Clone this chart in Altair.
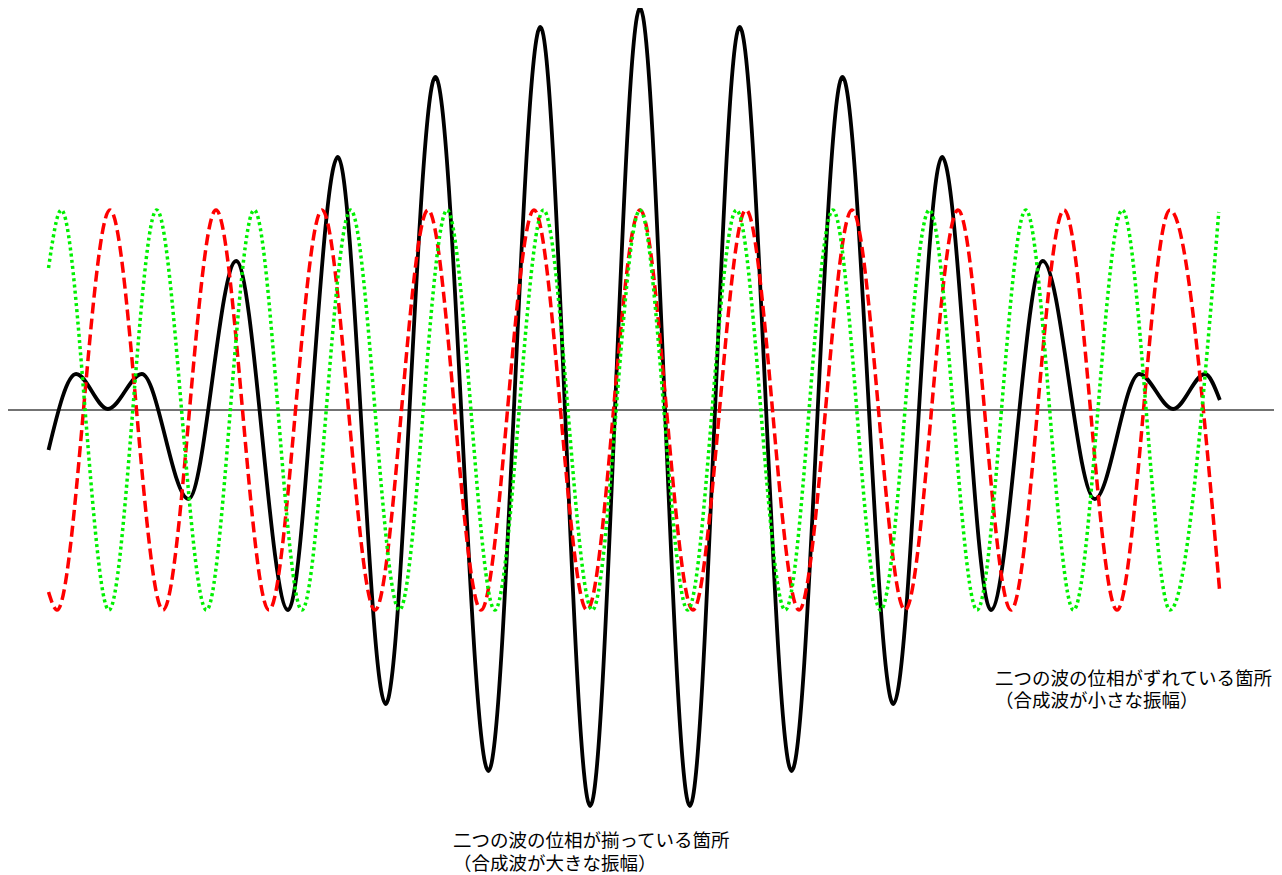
import altair as alt
import pandas as pd

# ---- data (time in s, amplitude in arbitrary units) ----
# sum wave (black) – extrema and ends
sum_t = [-0.558, -0.532, -0.502, -0.470, -0.426, -0.381, -0.332, -0.285, -0.240,
         -0.193, -0.143, -0.094, -0.047, 0.000, 0.047, 0.094, 0.143, 0.191,
         0.239, 0.285, 0.331, 0.380, 0.429, 0.471, 0.503, 0.533, 0.547]
sum_v = [-0.20, 0.18, 0.005, 0.18, -0.445, 0.745, -1.00, 1.265, -1.47,
         1.665, -1.805, 1.915, -1.98, 2.01, -1.98, 1.915, -1.805, 1.665,
         -1.47, 1.265, -1.00, 0.745, -0.445, 0.18, 0.005, 0.18, 0.05]

# wave 1 (red dashed)
red_t = [-0.558, -0.550, -0.500, -0.450, -0.400, -0.350, -0.300, -0.250,
         -0.200, -0.150, -0.100, -0.050, 0.000, 0.050, 0.100, 0.150, 0.200,
         0.250, 0.300, 0.350, 0.400, 0.450, 0.500, 0.547]
red_v = [-0.91, -1.0, 1.0, -1.0, 1.0, -1.0, 1.0, -1.0,
         1.0, -1.0, 1.0, -1.0, 1.0, -1.0, 1.0, -1.0, 1.0,
         -1.0, 1.0, -1.0, 1.0, -1.0, 1.0, -0.915]

# wave 2 (green dotted)
green_t = [-0.558, -0.546, -0.501, -0.456, -0.409, -0.364, -0.319, -0.273,
           -0.227, -0.182, -0.137, -0.091, -0.045, 0.000, 0.045, 0.091, 0.137,
           0.182, 0.227, 0.273, 0.318, 0.364, 0.409, 0.455, 0.500, 0.546]
green_v = [0.71, 1.0, -1.0, 1.0, -1.0, 1.0, -1.0, 1.0,
           -1.0, 1.0, -1.0, 1.0, -1.0, 1.0, -1.0, 1.0, -1.0,
           1.0, -1.0, 1.0, -1.0, 1.0, -1.0, 1.0, -1.0, 0.99]

# annotations (two-line labels; position = first line)
ann1_t, ann1_v = [-0.1764], [-2.155]
ann1_text = ["二つの波の位相が揃っている箇所\n（合成波が大きな振幅）"]
ann2_t, ann2_v = [0.3349], [-1.345]
ann2_text = ["二つの波の位相がずれている箇所\n（合成波が小さな振幅）"]

df_sum = pd.DataFrame({"t": sum_t, "v": sum_v})
df_red = pd.DataFrame({"t": red_t, "v": red_v})
df_green = pd.DataFrame({"t": green_t, "v": green_v})
df_ann1 = pd.DataFrame({"t": ann1_t, "v": ann1_v, "text": ann1_text})
df_ann2 = pd.DataFrame({"t": ann2_t, "v": ann2_v, "text": ann2_text})
df_zero = pd.DataFrame({"v": [0.0]})

xs = alt.Scale(domain=[-0.59623, 0.59811], nice=False, zero=False)
ys = alt.Scale(domain=[-2.325, 2.01], nice=False, zero=False)

X = alt.X("t:Q", scale=xs, axis=None)
Y = alt.Y("v:Q", scale=ys, axis=None)

zero = alt.Chart(df_zero).mark_rule(color="#444444", strokeWidth=1.5).encode(
    y=alt.Y("v:Q", scale=ys, axis=None))

black = alt.Chart(df_sum).mark_line(
    color="#000000", strokeWidth=3.8, interpolate="monotone").encode(x=X, y=Y)

red = alt.Chart(df_red).mark_line(
    color="#ff0000", strokeWidth=3.5, strokeDash=[11, 5], strokeCap="butt",
    interpolate="monotone").encode(x=X, y=Y)

green = alt.Chart(df_green).mark_line(
    color="#00f000", strokeWidth=3.5, strokeDash=[3, 3.2], strokeCap="butt",
    interpolate="monotone").encode(x=X, y=Y)

ann1 = alt.Chart(df_ann1).mark_text(
    align="left", baseline="middle", fontSize=18.5, font="Noto Sans CJK JP",
    lineBreak="\n", lineHeight=22.5, color="#000000").encode(x=X, y=Y, text="text:N")

ann2 = alt.Chart(df_ann2).mark_text(
    align="left", baseline="middle", fontSize=18.5, font="Noto Sans CJK JP",
    lineBreak="\n", lineHeight=22, color="#000000").encode(x=X, y=Y, text="text:N")

chart = alt.layer(zero, black, red, green, ann1, ann2).properties(
    width=1266, height=867,
    autosize=alt.AutoSizeParams(type="none"),
    padding=0,
).configure_view(stroke=None)

chart.save("out.html", embed_options={"renderer": "svg", "actions": False})
